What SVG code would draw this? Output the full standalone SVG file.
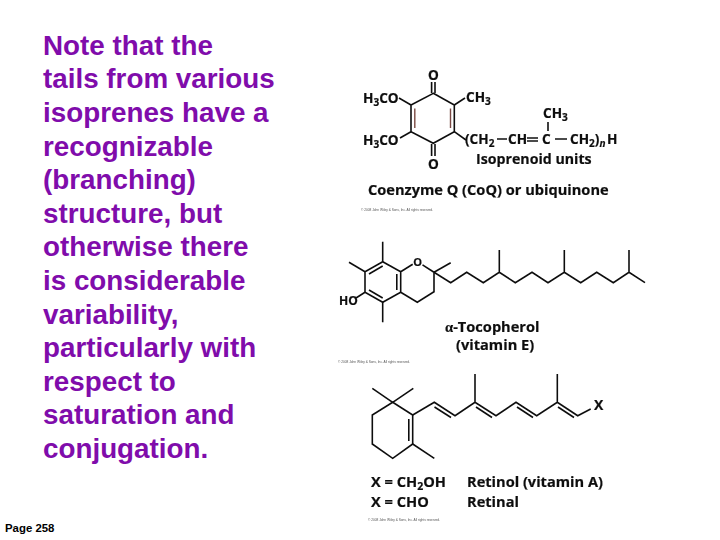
<svg xmlns="http://www.w3.org/2000/svg" width="720" height="540" viewBox="0 0 720 540">
<style>
.note{font:bold 27.8px "Liberation Sans",Arial,sans-serif;fill:#800cab}
.page{font:bold 11.4px "Liberation Sans",Arial,sans-serif;fill:#000}
.chem{font-family:"Open Sans",sans-serif;font-weight:700;fill:#111;font-size:13.6px;stroke:#111;stroke-width:.2}
.lg{font-size:14.6px}
.tiny{font-family:"Liberation Sans",sans-serif;font-size:3.2px;fill:#555}
.bond{fill:none;stroke:#111;stroke-width:1.6;stroke-linejoin:miter}
.rb{fill:none;stroke:#7a4a44;stroke-width:1.4}
</style>
<defs><filter id="soft" x="-5%" y="-5%" width="110%" height="110%"><feGaussianBlur stdDeviation="0.35"/></filter></defs>
<rect width="720" height="540" fill="#fff"/>
<g id="note">
<text class="note" x="43" y="55">Note that the</text>
<text class="note" x="43" y="88">tails from various</text>
<text class="note" x="43" y="122">isoprenes have a</text>
<text class="note" x="43" y="156">recognizable</text>
<text class="note" x="43" y="189">(branching)</text>
<text class="note" x="43" y="223">structure, but</text>
<text class="note" x="43" y="256">otherwise there</text>
<text class="note" x="43" y="290">is considerable</text>
<text class="note" x="43" y="324">variability,</text>
<text class="note" x="43" y="357">particularly with</text>
<text class="note" x="43" y="391">respect to</text>
<text class="note" x="43" y="424">saturation and</text>
<text class="note" x="43" y="458">conjugation.</text>
</g>
<text id="page" class="page" x="5" y="532">Page 258</text>
<g id="coq" filter="url(#soft)">
<path class="bond" d="M433.3 93.3L454.3 105V131.7L433.3 143.300L411 131.7V105Z"/>
<path class="rb" d="M450.500 108.500V128M414.800 108.500V128"/>
<path class="bond" d="M431.600 93V82M435 93V82M431.600 144V156M435 144V156M411 105L399 98M411 131.700L400 138M454.300 105L465 98M454.300 131.700L466 140M548 122V131"/>
<text class="chem" x="428" y="80">O</text>
<text class="chem" x="428" y="169">O</text>
<text class="chem" x="363" y="103">H<tspan font-size="10" dy="3">3</tspan><tspan dy="-3">CO</tspan></text>
<text class="chem" x="363" y="145">H<tspan font-size="10" dy="3">3</tspan><tspan dy="-3">CO</tspan></text>
<text class="chem" x="466" y="102">CH<tspan font-size="10" dy="3">3</tspan></text>
<text class="chem" x="543" y="118">CH<tspan font-size="10" dy="3">3</tspan></text>
<text class="chem" x="465" y="144">(CH<tspan font-size="10" dy="3">2</tspan></text>
<path class="bond" d="M497 139H507M527 138H538M527 141H538M555 139H567"/>
<text class="chem" x="508" y="144">CH</text>
<text class="chem" x="542" y="144">C</text>
<text class="chem" x="570" y="144">CH<tspan font-size="10" dy="3">2</tspan><tspan dy="-3">)</tspan><tspan font-size="10" font-style="italic" dy="3">n</tspan></text>
<text class="chem" x="607" y="144">H</text>
<text class="chem" x="476" y="163.500" font-size="14.200" style="font-size:14.200px">Isoprenoid units</text>
<text class="chem lg" x="368" y="195">Coenzyme Q (CoQ) or ubiquinone</text>
<text class="tiny" x="361" y="211">© 2008 John Wiley &amp; Sons, Inc. All rights reserved.</text>
</g>
<g id="tocopherol" filter="url(#soft)">
<path class="bond" d="M382.700 261.700L365 271.700V292.300L382.700 302.300L400.700 292.300V271.700ZM400.700 271.700L412.700 264.300M422.500 264.800L434 272.300V291.700L417.300 302.300L400.700 292.300"/>
<path class="bond" d="M382.700 266L369 274M369 290L382.700 298M396.800 274V290"/>
<path class="bond" d="M382.700 261.700V241.700M365 271.700L349 262.300M382.700 302.300V322.300M365 292.300L356 298M434 272.300L450.700 262.700"/>
<path class="bond" d="M434 272.300L450.700 282.700L466.700 272.300L483.300 282.700L499.300 272.300L515.300 282.700L532 272.300L548 282.700L564.300 272.300L580.700 282.700L596.700 272.300L613.300 282.700L629 272.300L645 282.700M499.300 272.300V250M564.300 272.300V250M629 272.300V250"/>
<text class="chem" x="413.300" y="266" style="font-size:11px">O</text>
<text class="chem" x="339" y="304.500" style="font-size:12px">HO</text>
<text class="chem lg" x="445" y="332"><tspan font-family="Liberation Serif">α</tspan>-Tocopherol</text>
<text class="chem lg" x="456" y="350">(vitamin E)</text>
<text class="tiny" x="338" y="363">© 2008 John Wiley &amp; Sons, Inc. All rights reserved.</text>
</g>
<g id="retinol" filter="url(#soft)">
<path class="bond" d="M392.700 402.300L412.700 415V444L392.700 458.300L372.300 444V415Z"/>
<path class="bond" d="M408.800 419V441M392.700 402.300L372.300 388.300M392.700 402.300L413.300 388.300M412.700 444L434.300 458.300"/>
<path class="bond" d="M412.700 415L434.300 402.300L455 415.700L475 402.300L496 415.700L516 402.300L536.700 415.700L557.300 402.300L577.700 415.700L590.700 409M475 402.300V374M557.300 402.300V374"/>
<path class="bond" d="M434.500 407L451 417.500M476 407L492 417.500M517 407L533 417.500M558 407L574 417.500"/>
<text class="chem" x="594" y="410" style="font-size:14px">X</text>
<text class="chem lg" x="371" y="487">X = CH<tspan font-size="10.500" dy="3">2</tspan><tspan dy="-3">OH</tspan></text>
<text class="chem lg" x="371" y="507">X = CHO</text>
<text class="chem lg" x="467" y="487">Retinol (vitamin A)</text>
<text class="chem lg" x="467" y="507">Retinal</text>
<text class="tiny" x="368" y="521">© 2008 John Wiley &amp; Sons, Inc. All rights reserved.</text>
</g>
</svg>
